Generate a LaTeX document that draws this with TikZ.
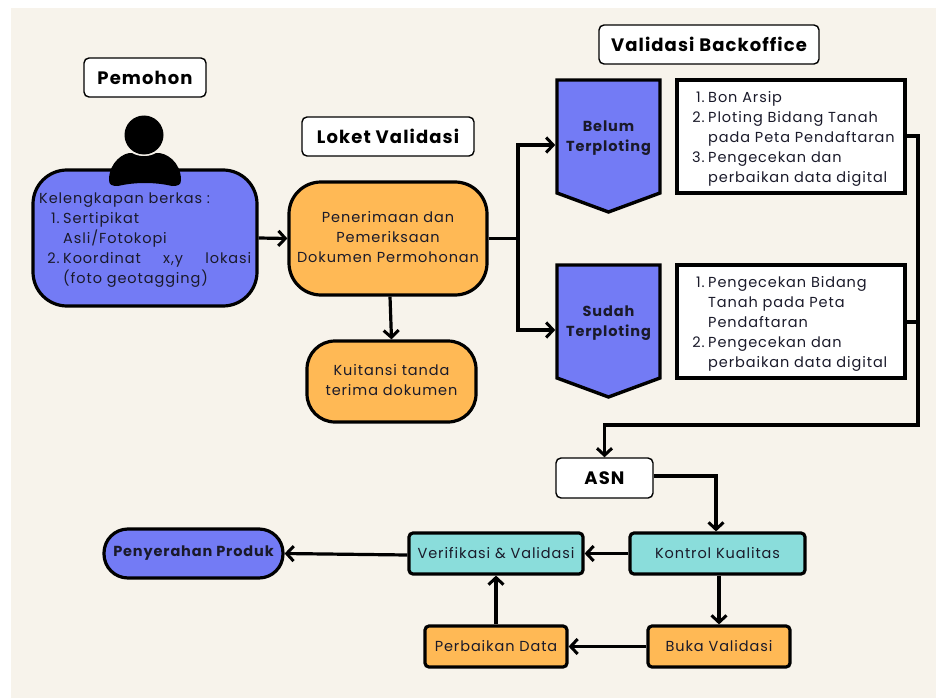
\documentclass[tikz,border=0pt]{standalone}
\usepackage{fontspec}
\setmainfont{Poppins}[LetterSpace=6.3]
\newfontfamily\boldf{Poppins Bold}[LetterSpace=6]
\usetikzlibrary{arrows.meta,positioning}
\definecolor{bgc}{HTML}{F7F3EB}
\definecolor{bluec}{HTML}{737BF5}
\definecolor{orangec}{HTML}{FFB955}
\definecolor{tealc}{HTML}{8ADDDB}
\definecolor{inkc}{HTML}{1A1A2A}
\newlength{\lind}
\newcommand{\itm}[2]{\makebox[\dimexpr\lind-3.5pt\relax][r]{#1}\hspace{3.5pt}#2}
\newcommand{\cnt}[1]{\hspace*{\lind}#1}
\tikzset{
 x=1pt,y=-1pt,
 bodyfont/.style={font=\fontsize{14.5}{20}\selectfont},
 strongfont/.style={font=\boldf\fontsize{14.5}{20}\selectfont},
 box/.style={draw=black,line width=3.2pt,inner sep=0pt,text=inkc,bodyfont,align=center},
 label text/.style={text=inkc,inner sep=0pt,bodyfont},
 list text/.style={label text,anchor=north west,align=left},
 title/.style={draw=black,fill=white,line width=1.4pt,rounded corners=5pt,inner sep=0pt,font=\boldf\fontsize{18}{20}\selectfont,text=black},
 pentagon/.style={fill=bluec,draw=black,line width=3.4pt,miter limit=10},
 link/.style={draw=black,line width=3.2pt,-{Straight Barb[length=7pt,width=15pt,line width=3pt]},shorten >=0pt},
 plainlink/.style={draw=black,line width=3.2pt},
}
\begin{document}
\begin{tikzpicture}
\useasboundingbox (0,0) rectangle (936,698);
\fill[white] (0,0) rectangle (936,698);
\fill[bgc] (11,8) rectangle (936,698);
% titles
\node[title,minimum width=122pt,minimum height=39pt] (pemohon) at (145,77.5) {Pemohon};
\node[title,minimum width=172pt,minimum height=39pt] (loket) at (388,136.5) {Loket Validasi};
\node[title,minimum width=220pt,minimum height=39pt] (backoffice) at (709,44.5) {Validasi Backoffice};
% applicant box
\node[box,fill=bluec,rounded corners=34pt,minimum width=224pt,minimum height=136pt] (berkas) at (145,238) {};
\setlength{\lind}{24pt}
\node[list text] (berkastext) at (39,193) {%
Kelengkapan berkas :\\
\itm{1.}{Sertipikat}\\
\cnt{Asli/Fotokopi}\\
\itm{2.}{\makebox[188pt][s]{Koordinat\hfill x,y\hfill lokasi}}\\
\cnt{(foto geotagging)}};
% person
\fill[black] (109,180) .. controls (109,162) and (124,152) .. (132,153) .. controls (138,157) and (150,157) .. (156,153) .. controls (166,152) and (181,162) .. (181,180) .. controls (181,185) and (178,186) .. (172,186) .. controls (155,182) and (135,182) .. (118,186) .. controls (112,186) and (109,185) .. (109,180) -- cycle;
\fill[bgc] (144,135) circle (20.8);
\fill[black] (144,135) circle (19.5);
% orange
\node[box,fill=orangec,rounded corners=32pt,minimum width=198pt,minimum height=113pt] (terima) at (388,238.5) {};
\node[label text,align=center] (terimatext) at (388,237) {Penerimaan dan\\Pemeriksaan\\Dokumen Permohonan};
\node[box,fill=orangec,rounded corners=28pt,minimum width=169pt,minimum height=81pt] (kuitansi) at (391.5,381.5) {};
\node[label text,align=center] (kuitansitext) at (391.5,380.5) {Kuitansi tanda\\terima dokumen};
% pentagons
\fill[pentagon] (557,80) -- (660,80) -- (660,193) -- (608.5,212) -- (557,193) -- cycle;
\node[inner sep=0pt,minimum width=103pt,minimum height=132pt,outer sep=1.8pt] (belum) at (608.5,146) {};
\node[inner sep=0pt,align=center,strongfont,text=inkc] (belumtext) at (608.5,138.5) {Belum\\Terploting};
\fill[pentagon] (557,265) -- (660,265) -- (660,378) -- (608.5,397) -- (557,378) -- cycle;
\node[inner sep=0pt,minimum width=103pt,minimum height=132pt,outer sep=1.8pt] (sudah) at (608.5,331) {};
\node[inner sep=0pt,align=center,strongfont,text=inkc] (sudahtext) at (608.5,323.5) {Sudah\\Terploting};
% white lists
\setlength{\lind}{17pt}
\node[box,fill=white,minimum width=228pt,minimum height=113pt] (listA) at (791,136.5) {};
\node[list text] (listAtext) at (691,91) {%
\itm{1.}{Bon Arsip}\\
\itm{2.}{Ploting Bidang Tanah}\\
\cnt{pada Peta Pendaftaran}\\
\itm{3.}{Pengecekan dan}\\
\cnt{perbaikan data digital}};
\node[box,fill=white,minimum width=228pt,minimum height=113pt] (listB) at (791,321.5) {};
\node[list text] (listBtext) at (691,276) {%
\itm{1.}{Pengecekan Bidang}\\
\cnt{Tanah pada Peta}\\
\cnt{Pendaftaran}\\
\itm{2.}{Pengecekan dan}\\
\cnt{perbaikan data digital}};
% lower part
\node[title,minimum width=97pt,minimum height=40pt] (asn) at (604.5,478) {ASN};
\tikzset{small/.style={box,rounded corners=4pt,minimum height=41pt}}
\node[small,fill=tealc,minimum width=175pt] (kontrol) at (717.5,553.5) {Kontrol Kualitas};
\node[small,fill=tealc,minimum width=174pt] (verif) at (496,553.5) {Verifikasi \& Validasi};
\node[small,fill=orangec,minimum width=142pt] (perbaikan) at (496,646.5) {Perbaikan Data};
\node[small,fill=orangec,minimum width=142pt] (buka) at (719,646.5) {Buka Validasi};
\node[box,fill=bluec,rounded corners=24pt,minimum width=179pt,minimum height=49pt,strongfont] (serah) at (193.5,553.5) {Penyerahan Produk};
% connectors
\draw[link] (berkas.east) -- (terima.west);
\draw[link] ([xshift=2pt]terima.south) -- (kuitansi.north);
\coordinate (split) at (518,238.5);
\draw[plainlink] (terima.east) -- (split);
\coordinate (splitA) at (518,145);
\coordinate (splitB) at (518,330);
\draw[link,line join=miter] (split) -- (splitA) -- (belum.west |- splitA);
\draw[link,line join=miter] (split) -- (splitB) -- (sudah.west |- splitB);
\coordinate (rail) at (918,425);
\coordinate (railtop) at (918,136);
\coordinate (railmid) at (918,322);
\coordinate (drop) at (604.5,425);
\draw[plainlink] (listB.east |- railmid) -- (railmid);
\draw[link,line join=miter] (listA.east |- railtop) -- (railtop) -- (rail) -- (drop) -- (asn.north);
\coordinate (asnturn) at (716,476);
\draw[link,line join=miter] (asn.east |- asnturn) -- (asnturn) -- (kontrol.north -| asnturn);
\draw[link] (kontrol.west) -- (verif.east);
\draw[link] ([yshift=-1.5pt]verif.west) -- (serah.east);
\draw[link] (kontrol.south -| buka.north) -- (buka.north);
\draw[link] (buka.west) -- (perbaikan.east);
\draw[link] (perbaikan.north) -- (verif.south);
\end{tikzpicture}
\end{document}
